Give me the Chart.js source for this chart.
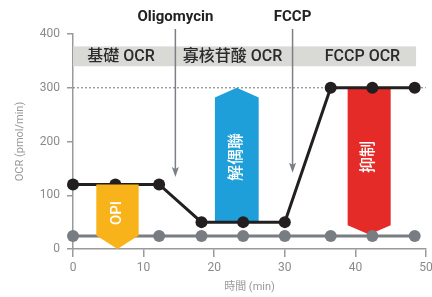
<!DOCTYPE html>
<html><head><meta charset="utf-8">
<script src="https://cdn.jsdelivr.net/npm/chart.js@4/dist/chart.umd.min.js"></script>
<style>html,body{margin:0;padding:0;background:#fff}#wrap{width:432px;height:297px}</style>
</head><body><div id="wrap"><canvas id="c" width="432" height="297"></canvas></div>
<script>
// ---- data ----
const times = [0, 6, 12.2, 18.2, 24.1, 30, 36.5, 42.4, 48.4];
const sampleOCR = [120, 120, 120, 50, 50, 50, 300, 300, 300];
const nonMitoOCR = [24, 24, 24, 24, 24, 24, 24, 24, 24];
const xTicks = [0, 10, 20, 30, 40, 50];
const yTicks = [0, 100, 200, 300, 400];
const phaseLabels = ['基礎 OCR', '寡核苷酸 OCR', 'FCCP OCR'];
const phaseLabelTimes = [6.8, 22.6, 41];
const bandTimes = [0, 48.6];
const bandRange = [340, 377];
const injectionLabels = ['Oligomycin', 'FCCP'];
const injectionTimes = [14.5, 31.1];
const injectionArrowTips = [134, 142];
const maxRefLine = 300;
const calloutLabels = ['OPI', '解偶聯', '抑制'];
const calloutX0 = [3.3, 20.1, 38.9];
const calloutX1 = [9.3, 26.3, 45];
const calloutTop = [120, 282, 300];   // top edge (side top for upward arrow)
const calloutApex = [120, 300, 300];  // apex (upward arrow)
const calloutSide = [25, 50, 44];     // bottom edge of sides
const calloutTip = [0, 50, 27];       // bottom tip
const calloutTextY = [67, 171, 171];
const calloutColors = ['#F9B31A', '#1E9FDA', '#E52B28'];

const FONT = 'Roboto, "Noto Sans CJK TC", sans-serif';

function drawCallout(chart, i) {
  const {ctx, scales: {x, y}} = chart;
  const x0 = x.getPixelForValue(calloutX0[i]), x1 = x.getPixelForValue(calloutX1[i]);
  const cx = (x0 + x1) / 2;
  ctx.save();
  ctx.fillStyle = calloutColors[i];
  ctx.beginPath();
  ctx.moveTo(x0, y.getPixelForValue(calloutTop[i]));
  ctx.lineTo(cx, y.getPixelForValue(calloutApex[i]));
  ctx.lineTo(x1, y.getPixelForValue(calloutTop[i]));
  ctx.lineTo(x1, y.getPixelForValue(calloutSide[i]));
  ctx.lineTo(cx, y.getPixelForValue(calloutTip[i]));
  ctx.lineTo(x0, y.getPixelForValue(calloutSide[i]));
  ctx.closePath();
  ctx.fill();
  ctx.translate(cx, y.getPixelForValue(calloutTextY[i]));
  ctx.rotate(-Math.PI / 2);
  ctx.fillStyle = '#ffffff';
  ctx.font = (i === 0 ? '500 15px ' : '500 16px ') + FONT;
  ctx.textAlign = 'center';
  ctx.textBaseline = 'middle';
  ctx.fillText(calloutLabels[i], 0, 0);
  ctx.restore();
}

const decor = {
  id: 'decor',
  beforeDatasetsDraw(chart) {
    const {ctx, scales: {x, y}, chartArea: ca} = chart;
    ctx.save();
    // band
    const bt = y.getPixelForValue(bandRange[1]), bb = y.getPixelForValue(bandRange[0]);
    const bl = x.getPixelForValue(bandTimes[0]), br = x.getPixelForValue(bandTimes[1]);
    ctx.fillStyle = '#D9D9D6';
    ctx.fillRect(bl, bt, br - bl, bb - bt);
    ctx.fillStyle = '#2b2b2b';
    ctx.font = '500 16px ' + FONT;
    ctx.textAlign = 'center';
    ctx.textBaseline = 'middle';
    phaseLabels.forEach((t, i) => ctx.fillText(t, x.getPixelForValue(phaseLabelTimes[i]), (bt + bb) / 2 + 1));
    // dotted max line
    const ym = y.getPixelForValue(maxRefLine);
    ctx.strokeStyle = '#8a8a8a';
    ctx.lineWidth = 1.2;
    ctx.setLineDash([2, 2]);
    ctx.beginPath();
    ctx.moveTo(ca.left, ym);
    ctx.lineTo(ca.right, ym);
    ctx.stroke();
    ctx.setLineDash([]);
    // injection arrows
    ctx.strokeStyle = '#7B8087';
    ctx.fillStyle = '#7B8087';
    ctx.lineWidth = 1.5;
    injectionTimes.forEach((t, i) => {
      const px = x.getPixelForValue(t);
      const tip = y.getPixelForValue(injectionArrowTips[i]);
      ctx.beginPath();
      ctx.moveTo(px, ca.top - 5);
      ctx.lineTo(px, tip - 6);
      ctx.stroke();
      ctx.beginPath();
      ctx.moveTo(px - 3.5, tip - 10);
      ctx.lineTo(px, tip);
      ctx.lineTo(px + 3.5, tip - 10);
      ctx.lineTo(px, tip - 8);
      ctx.closePath();
      ctx.fill();
    });
    ctx.restore();
    drawCallout(chart, 1);
    drawCallout(chart, 2);
  },
  afterDatasetsDraw(chart) {
    drawCallout(chart, 0);
  },
  afterDraw(chart) {
    const {ctx, scales: {x}, chartArea: ca} = chart;
    ctx.save();
    ctx.fillStyle = '#222222';
    ctx.font = 'bold 15px ' + FONT;
    ctx.textAlign = 'center';
    ctx.textBaseline = 'middle';
    injectionLabels.forEach((t, i) => ctx.fillText(t, x.getPixelForValue(injectionTimes[i]), ca.top - 17));
    ctx.restore();
  }
};

new Chart(document.getElementById('c'), {
  type: 'line',
  data: {
    datasets: [
      {
        data: times.map((t, i) => ({x: t, y: sampleOCR[i]})),
        borderColor: '#231F20', backgroundColor: '#231F20',
        borderWidth: 3, pointRadius: 6, pointBorderWidth: 0,
        pointBackgroundColor: '#231F20', clip: false
      },
      {
        data: times.map((t, i) => ({x: t, y: nonMitoOCR[i]})),
        borderColor: '#787D84', backgroundColor: '#787D84',
        borderWidth: 3, pointRadius: 6, pointBorderWidth: 0,
        pointBackgroundColor: '#787D84', clip: false
      }
    ]
  },
  options: {
    responsive: false,
    animation: false,
    devicePixelRatio: 1,
    layout: {padding: {left: 0, right: 0, top: 34, bottom: 0}},
    plugins: {legend: {display: false}, tooltip: {enabled: false}},
    scales: {
      x: {
        type: 'linear', min: 0, max: 50,
        afterBuildTicks: s => { s.ticks = xTicks.map(v => ({value: v})); },
        afterFit: s => { s.height = 48; s.paddingRight = 5; s.paddingLeft = 0; },
        grid: {drawOnChartArea: false, drawTicks: true, tickLength: 8, color: '#9a9a9a', lineWidth: 1.5},
        border: {display: true, color: '#9a9a9a', width: 1.5},
        ticks: {color: '#8a8a8a', font: {family: FONT, size: 12}, padding: 4, maxRotation: 0},
        title: {display: true, text: '時間 (min)', color: '#999999', font: {family: FONT, size: 11}, padding: {top: 0, bottom: 3}}
      },
      y: {
        type: 'linear', min: 0, max: 400,
        afterBuildTicks: s => { s.ticks = yTicks.map(v => ({value: v})); },
        afterFit: s => { s.width = 73; s.paddingTop = 0; s.paddingBottom = 0; },
        grid: {drawOnChartArea: false, drawTicks: true, tickLength: 6, color: '#9a9a9a', lineWidth: 1.5},
        border: {display: true, color: '#9a9a9a', width: 1.5},
        ticks: {color: '#8a8a8a', font: {family: FONT, size: 12}, padding: 7},
        title: {display: true, text: 'OCR (pmol/min)', color: '#999999', font: {family: FONT, size: 11}, padding: {top: 14, bottom: 0}}
      }
    }
  },
  plugins: [decor]
});
</script>
</body></html>
